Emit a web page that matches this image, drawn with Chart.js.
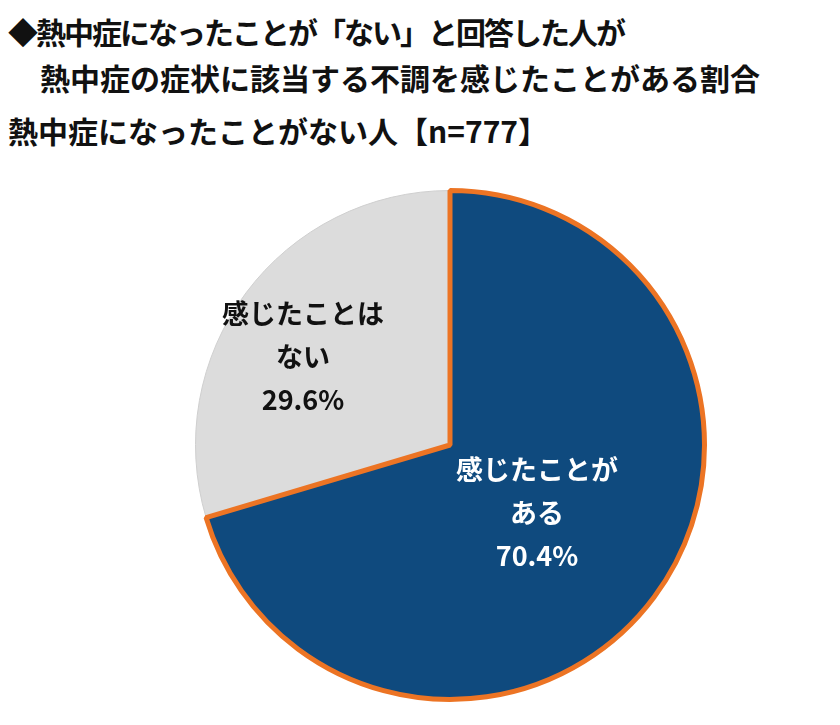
<!DOCTYPE html>
<html><head><meta charset="utf-8">
<script src="https://cdn.jsdelivr.net/npm/chart.js@4/dist/chart.umd.min.js"></script>
<style>
body{margin:0;background:#fff;font-family:"Noto Sans CJK JP",sans-serif;}
.t{position:absolute;font-weight:bold;font-size:30px;line-height:36px;color:#111;white-space:nowrap;}
#box{position:absolute;left:185px;top:180px;width:530px;height:530px;}
</style></head><body>
<div class="t" style="left:8px;top:13px;letter-spacing:-2px">◆熱中症になったことが「ない」と回答した人が</div>
<div class="t" style="left:40px;top:59px">熱中症の症状に該当する不調を感じたことがある割合</div>
<div class="t" style="left:8px;top:112px">熱中症になったことがない人【n=777】</div>
<div id="box"><canvas id="c"></canvas></div>
<script>
const categories = ["感じたことはない", "感じたことがある"];
const labelLines = [["感じたことは", "ない"], ["感じたことが", "ある"]];
const values = [29.6, 70.4];

const labelPlugin = {
  id: "sliceLabels",
  afterDatasetsDraw(chart) {
    const ctx = chart.ctx;
    const arcs = chart.getDatasetMeta(0).data;
    const colors = ["#111", "#fff"];
    const offs = [[-45, -12], [-15, -8]];
    arcs.forEach((arc, i) => {
      const p = arc.tooltipPosition();
      const lines = labelLines[i].concat([values[i].toFixed(1) + "%"]);
      ctx.save();
      ctx.fillStyle = colors[i];
      ctx.font = "bold 27px 'Noto Sans CJK JP', sans-serif";
      ctx.textAlign = "center";
      ctx.textBaseline = "middle";
      lines.forEach((l, j) => {
        ctx.fillText(l, p.x + offs[i][0], p.y + offs[i][1] + (j - 1) * 43);
      });
      ctx.restore();
    });
  }
};

new Chart(document.getElementById("c").getContext("2d"), {
  type: "pie",
  data: {
    labels: categories,
    datasets: [{
      data: values,
      backgroundColor: ["#dcdcdc", "#0f4a7e"],
      borderColor: ["#cfcfcf", "#ec7424"],
      borderWidth: [1, 5]
    }]
  },
  options: {
    responsive: true,
    maintainAspectRatio: false,
    animation: false,
    rotation: -values[0] * 3.6,
    layout: { padding: 8 },
    plugins: { legend: { display: false }, tooltip: { enabled: false } }
  },
  plugins: [labelPlugin]
});
</script>
</body></html>
